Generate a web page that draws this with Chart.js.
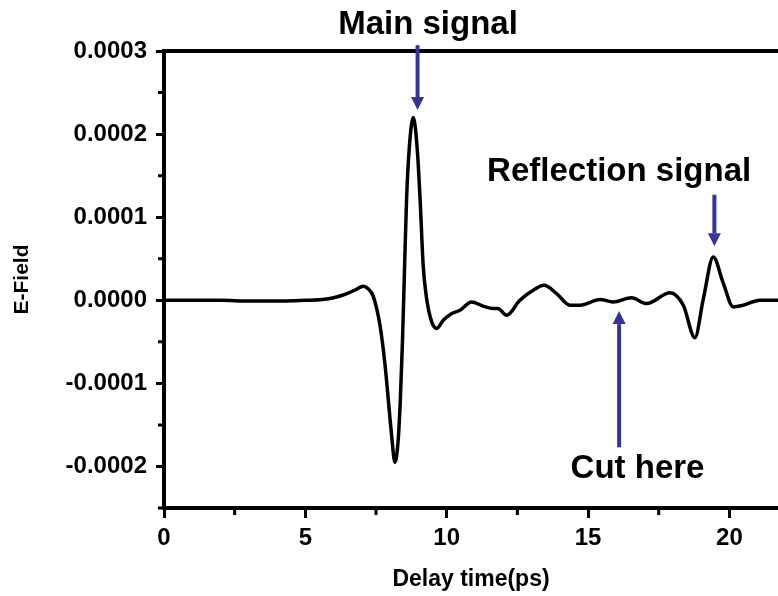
<!DOCTYPE html>
<html>
<head>
<meta charset="utf-8">
<script src="https://cdn.jsdelivr.net/npm/chart.js@4.4.1/dist/chart.umd.min.js"></script>
<style>
  html, body { margin: 0; padding: 0; background: #fff; }
  #wrap { width: 778px; height: 596px; }
</style>
</head>
<body>
<div id="wrap"><canvas id="pulseChart" width="778" height="596"></canvas></div>
<script>
// THz pulse: delay time (ps) vs E-field
const delayTime = [0, 1, 2, 3, 4, 5, 5.6, 6.0, 6.4, 6.8, 7.05, 7.22, 7.40, 7.64, 7.82, 7.93, 8.05, 8.17, 8.28,
  8.36, 8.44, 8.51, 8.58, 8.68, 8.82, 8.96, 9.06, 9.17, 9.29, 9.47, 9.65, 9.88, 10.18, 10.47, 10.88, 11.29,
  11.65, 11.81, 12.12, 12.59, 13.06, 13.44, 13.89, 14.36, 14.72, 15.42, 15.89, 16.54, 17.07, 17.90, 18.37,
  18.78, 19.08, 19.43, 19.78, 20.14, 20.49, 21.08, 21.72];
const eField = [0, 0, 0, -0.01e-4, -0.01e-4, 0, 0.01e-4, 0.03e-4, 0.07e-4, 0.13e-4, 0.17e-4, 0.14e-4, 0.05e-4,
  -0.30e-4, -0.78e-4, -1.18e-4, -1.62e-4, -1.95e-4, -1.70e-4, -1.20e-4, -0.45e-4, 0.40e-4, 1.21e-4, 1.85e-4,
  2.20e-4, 1.81e-4, 1.21e-4, 0.41e-4, 0.02e-4, -0.26e-4, -0.34e-4, -0.24e-4, -0.16e-4, -0.12e-4, -0.02e-4,
  -0.07e-4, -0.10e-4, -0.10e-4, -0.18e-4, 0, 0.12e-4, 0.18e-4, 0.08e-4, -0.06e-4, -0.06e-4, 0.01e-4,
  -0.02e-4, 0.03e-4, -0.04e-4, 0.09e-4, -0.06e-4, -0.45e-4, 0.02e-4, 0.52e-4, 0.21e-4, -0.08e-4, -0.06e-4,
  0, 0];

const xMajorTicks = [0, 5, 10, 15, 20];
const xMinorTicks = [2.5, 7.5, 12.5, 17.5];
const yMajorTicks = [-0.0002, -0.0001, 0, 0.0001, 0.0002, 0.0003];
const yMinorTicks = [-0.00025, -0.00015, -0.00005, 0.00005, 0.00015, 0.00025];

// labels and arrows, placed in data units
const noteTexts = ['Main signal', 'Reflection signal', 'Cut here'];
const noteX = [9.34, 16.1, 16.75];
const noteY = [0.000321, 0.000143, -0.000214];
const arrowX = [8.97, 19.47, 16.1];
const arrowFrom = [0.000307, 0.000127, -0.000177];
const arrowTo = [0.000229, 0.000065, -0.000013];

const FONT = '"Liberation Sans", Arial, sans-serif';
const ARROW_COLOR = '#34349a';

const extras = {
  id: 'extras',
  afterDraw(chart) {
    const { ctx, scales: { x, y } } = chart;
    ctx.save();
    // minor ticks
    ctx.strokeStyle = '#000';
    ctx.lineWidth = 3;
    ctx.beginPath();
    xMinorTicks.forEach(v => {
      const px = x.getPixelForValue(v);
      ctx.moveTo(px, x.top); ctx.lineTo(px, x.top + 7);
    });
    yMinorTicks.forEach(v => {
      const py = y.getPixelForValue(v);
      ctx.moveTo(y.right - 6, py); ctx.lineTo(y.right, py);
    });
    ctx.stroke();

    // arrows
    ctx.strokeStyle = ARROW_COLOR;
    ctx.fillStyle = ARROW_COLOR;
    ctx.lineWidth = 4;
    arrowX.forEach((v, i) => {
      const px = x.getPixelForValue(v);
      const p0 = y.getPixelForValue(arrowFrom[i]);
      const p1 = y.getPixelForValue(arrowTo[i]);
      const dir = p1 > p0 ? 1 : -1;
      const head = 13;
      ctx.beginPath();
      ctx.moveTo(px, p0);
      ctx.lineTo(px, p1 - dir * head);
      ctx.stroke();
      ctx.beginPath();
      ctx.moveTo(px, p1);
      ctx.lineTo(px - 6.5, p1 - dir * head);
      ctx.lineTo(px + 6.5, p1 - dir * head);
      ctx.closePath();
      ctx.fill();
    });

    // notes
    ctx.fillStyle = '#000';
    ctx.font = 'bold 33px ' + FONT;
    ctx.textAlign = 'center';
    ctx.textBaseline = 'alphabetic';
    noteTexts.forEach((t, i) => {
      ctx.fillText(t, x.getPixelForValue(noteX[i]), y.getPixelForValue(noteY[i]));
    });
    ctx.restore();
  }
};

new Chart(document.getElementById('pulseChart'), {
  type: 'line',
  data: {
    datasets: [{
      data: delayTime.map((t, i) => ({ x: t, y: eField[i] })),
      borderColor: '#000',
      borderWidth: 3.5,
      pointRadius: 0,
      cubicInterpolationMode: 'monotone',
      fill: false
    }]
  },
  options: {
    responsive: false,
    animation: false,
    layout: { padding: { top: 51, right: 0, bottom: 0, left: 0 } },
    plugins: { legend: { display: false }, tooltip: { enabled: false } },
    scales: {
      x: {
        type: 'linear',
        position: 'bottom',
        min: 0,
        max: 21.72,
        afterBuildTicks: s => { s.ticks = xMajorTicks.map(v => ({ value: v })); },
        afterFit: s => { s.height = 88; },
        ticks: {
          color: '#000',
          font: { family: FONT, size: 24, weight: 'bold' },
          padding: 6,
          maxRotation: 0,
          autoSkip: false
        },
        grid: { drawOnChartArea: false, drawTicks: true, tickLength: 10, tickWidth: 3, tickColor: '#000' },
        border: { color: '#000', width: 4 },
        title: {
          display: true,
          text: 'Delay time(ps)',
          color: '#000',
          font: { family: FONT, size: 23, weight: 'bold' },
          padding: { top: 0, bottom: 3 }
        }
      },
      xTop: {
        type: 'linear',
        position: 'top',
        min: 0,
        max: 21.72,
        afterFit: s => { s.height = 0; },
        ticks: { display: false },
        grid: { display: false, drawTicks: false },
        border: { color: '#000', width: 4 }
      },
      y: {
        type: 'linear',
        min: -0.00025,
        max: 0.0003,
        afterBuildTicks: s => { s.ticks = yMajorTicks.map(v => ({ value: v })); },
        afterFit: s => { s.width = 164; },
        ticks: {
          color: '#000',
          font: { family: FONT, size: 24, weight: 'bold' },
          padding: 9,
          callback: v => v.toFixed(4)
        },
        grid: { drawOnChartArea: false, drawTicks: true, tickLength: 8, tickWidth: 3, tickColor: '#000' },
        border: { color: '#000', width: 4 },
        title: {
          display: true,
          text: 'E-Field',
          color: '#000',
          font: { family: FONT, size: 21, weight: 'bold' },
          padding: { top: 10, bottom: 0 }
        }
      }
    }
  },
  plugins: [extras]
});
</script>
</body>
</html>
